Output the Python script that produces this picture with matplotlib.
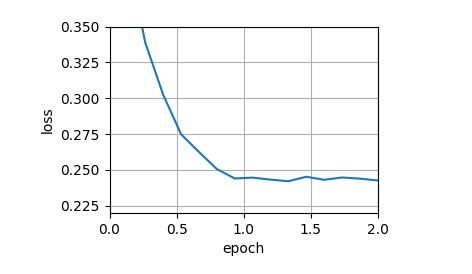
import matplotlib
matplotlib.use("Agg")
import matplotlib.pyplot as plt

epochs = [0.1333, 0.2667, 0.4, 0.5333, 0.6667, 0.8, 0.9333, 1.0667,
          1.2, 1.3333, 1.4667, 1.6, 1.7333, 1.8667, 2.0]
loss = [0.400, 0.3388, 0.3025, 0.2749, 0.2625, 0.2506, 0.2440, 0.2446,
        0.2432, 0.2421, 0.2452, 0.2431, 0.2447, 0.2439, 0.2426]

fig = plt.figure(figsize=(4.72, 2.74), dpi=100)
ax = fig.add_axes([0.232, 0.2226, 0.5686, 0.68])
ax.plot(epochs, loss, color="#1f77b4", linewidth=1.5)
ax.set_xlim(0, 2.0)
ax.set_ylim(0.2199, 0.35)
ax.set_xticks([0.0, 0.5, 1.0, 1.5, 2.0])
ax.set_yticks([0.225, 0.250, 0.275, 0.300, 0.325, 0.350])
ax.set_xlabel("epoch")
ax.set_ylabel("loss")
ax.grid(True)
fig.savefig("out.png", dpi=100)
